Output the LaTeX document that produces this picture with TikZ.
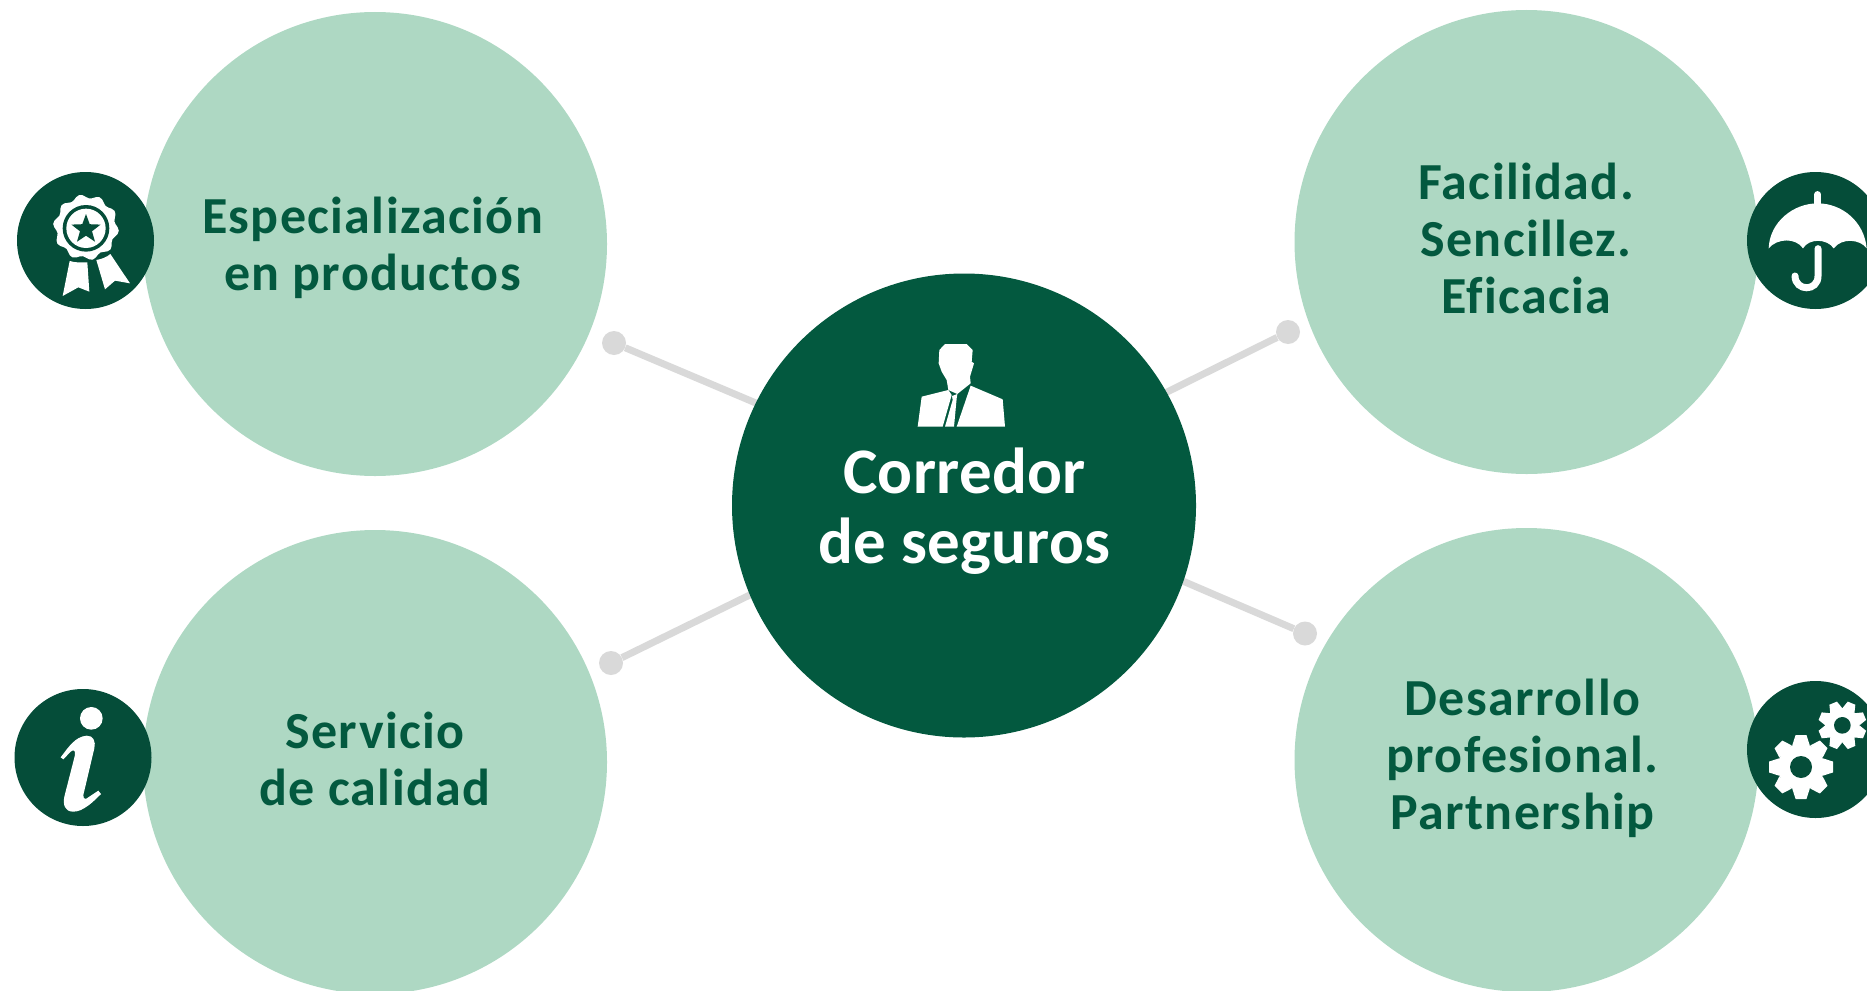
\documentclass[tikz,border=0pt]{standalone}
\usepackage{fontspec}
\setmainfont{Carlito}
\newfontfamily\bubblefont[LetterSpace=2.6,Ligatures=NoCommon]{Carlito}
\newfontfamily\hubfont[LetterSpace=0.4,Ligatures=NoCommon]{Carlito}
\definecolor{midgreen}{HTML}{03593F}
\definecolor{icongreen}{HTML}{054D39}
\definecolor{lightgreen}{HTML}{AED8C3}
\definecolor{linegray}{HTML}{D9D9D9}
\tikzset{
  bubble/.style={circle,fill=lightgreen,inner sep=0pt,minimum size=464pt},
  hub/.style={circle,fill=midgreen,inner sep=0pt,minimum size=464pt},
  badge/.style={circle,fill=icongreen,inner sep=0pt,minimum size=137pt},
  pin/.style={circle,fill=linegray,inner sep=0pt,minimum size=24pt},
  spoke/.style={draw=linegray,line width=7pt},
  bubbletext/.style={text=midgreen,align=center,inner sep=0pt,font=\bubblefont\fontsize{52}{57}\selectfont\bfseries},
  hubtext/.style={text=white,align=center,inner sep=0pt,font=\hubfont\fontsize{65}{70}\selectfont\bfseries},
  zoomed/.style={x=0.33333pt,y=-0.33333pt}
}
\newcommand{\cogwheel}[6]{% cx cy R r hole rot
  \fill[white] (#1,#2) circle[radius=#4];
  \foreach \k in {0,...,7}{
    \fill[white,shift={(#1,#2)},rotate={#6+45*\k}]
      (-0.27*#3,#4-4) -- (-0.17*#3,#3) -- (0.17*#3,#3) -- (0.27*#3,#4-4) -- cycle;
  }
  \fill[icongreen] (#1,#2) circle[radius=#5];
}
\begin{document}
\begin{tikzpicture}[x=1pt,y=-1pt]
\useasboundingbox (0,0) rectangle (1867,990);
\clip (0,0) rectangle (1867,990);
% spokes
\node[pin] (d1) at (614,343) {};
\node[pin] (d2) at (1288,332) {};
\node[pin] (d3) at (611,663) {};
\node[pin] (d4) at (1305,633.5) {};
\coordinate (t1) at (770,409);
\coordinate (t2) at (1153,399);
\coordinate (t3) at (764,588);
\coordinate (t4) at (1171,576);
\draw[spoke] (d1) -- (t1);
\draw[spoke] (d2) -- (t2);
\draw[spoke] (d3) -- (t3);
\draw[spoke] (d4) -- (t4);
% circles
\node[bubble] (b1) at (375,244) {};
\node[bubble] (b2) at (1526.5,242) {};
\node[bubble] (b3) at (375,762) {};
\node[bubble] (b4) at (1526.5,760) {};
\node[hub] (hub) at (964,505.5) {};
% texts
\node[bubbletext] (l1) at (372.5,248) {Especialización\\en productos};
\node[bubbletext] (l2) at (1526,238) {Facilidad.\\Sencillez.\\Eficacia};
\node[bubbletext] (l3) at (375,759) {Servicio\\de calidad};
\node[bubbletext] (l4) at (1522.5,758) {Desarrollo\\profesional.\\Partnership};
\node[hubtext] (lh) at (964.5,511.5) {Corredor\\de seguros};
% badges
\node[badge] (i1) at (85.5,240.5) {};
\node[badge] (i2) at (1815.5,240.5) {};
\node[badge] (i3) at (83,757.5) {};
\node[badge] (i4) at (1815.5,749.5) {};
% rosette
\begin{scope}[shift={(0,150)},zoomed]
  \fill[white] (209,333) .. controls (225,338) and (245,338) .. (262,337) -- (268,425) -- (235,412) -- (188,438) -- cycle;
  \fill[white] (289,330) .. controls (305,327) and (320,322) .. (331,312) -- (390,400) -- (345,392) -- (315,418) -- cycle;
  \fill[white] plot[smooth cycle,samples=60,domain=0:354] ({258+(93+6*cos(10*(\x-259)))*cos(\x)},{232+(93+6*cos(10*(\x-259)))*sin(\x)});
  \fill[icongreen] (258,235) circle[radius=70];
  \fill[white] (258,235) circle[radius=59];
  \fill[icongreen] plot[samples at={0,...,9}] ({258+(mod(\x,2)==0?46:19)*sin(36*\x)},{238-(mod(\x,2)==0?46:19)*cos(36*\x)}) -- cycle;
\end{scope}
% umbrella
\begin{scope}[shift={(1727,150)},zoomed]
  \draw[white,line width=6.5pt,line cap=round] (272,133) -- (272,170);
  \fill[white] (125,295) .. controls (128,215) and (200,160) .. (272,160) .. controls (345,160) and (412,215) .. (419,295)
    .. controls (400,268) and (345,262) .. (320,295) .. controls (300,265) and (245,265) .. (228,295)
    .. controls (205,262) and (150,265) .. (125,295) -- cycle;
  \draw[white,line width=7pt,line cap=round] (273,296) -- (273,378) .. controls (273,425) and (205,425) .. (204,378);
\end{scope}
% gears
\begin{scope}[shift={(1727,670)},zoomed]
  \cogwheel{222}{291}{96}{70}{33}{0}
  \cogwheel{346}{166}{72}{52}{25}{22.5}
\end{scope}
% info i
\begin{scope}[shift={(0,670)},zoomed]
  \fill[white] (274,145) circle[radius=34];
  \fill[white] (182,262) .. controls (205,232) and (225,200) .. (260,197)
    .. controls (280,196) and (288,215) .. (283,235) -- (250,375)
    .. controls (250,390) and (258,388) .. (265,382) -- (295,362) -- (303,372)
    .. controls (280,395) and (250,425) .. (220,425)
    .. controls (195,425) and (188,405) .. (193,380) -- (225,255)
    .. controls (227,240) and (220,238) .. (212,245) -- (190,268) -- cycle;
\end{scope}
% person
\begin{scope}[shift={(880,320)},zoomed]
  \fill[white] (195,72) -- (260,72) -- (278,90) -- (275,125) -- (282,130) -- (270,170) -- (272,190) -- (232,222) -- (205,210) -- (200,180) -- (185,155) -- (176,130) -- (178,90) -- cycle;
  \fill[white] (125,230) -- (205,210) -- (215,225) -- (188,320) -- (113,320) -- cycle;
  \fill[white] (216,228) -- (232,222) -- (230,235) -- (222,320) -- (195,320) -- (218,240) -- cycle;
  \fill[white] (272,197) -- (368,238) -- (375,320) -- (230,320) -- cycle;
\end{scope}
\end{tikzpicture}
\end{document}
